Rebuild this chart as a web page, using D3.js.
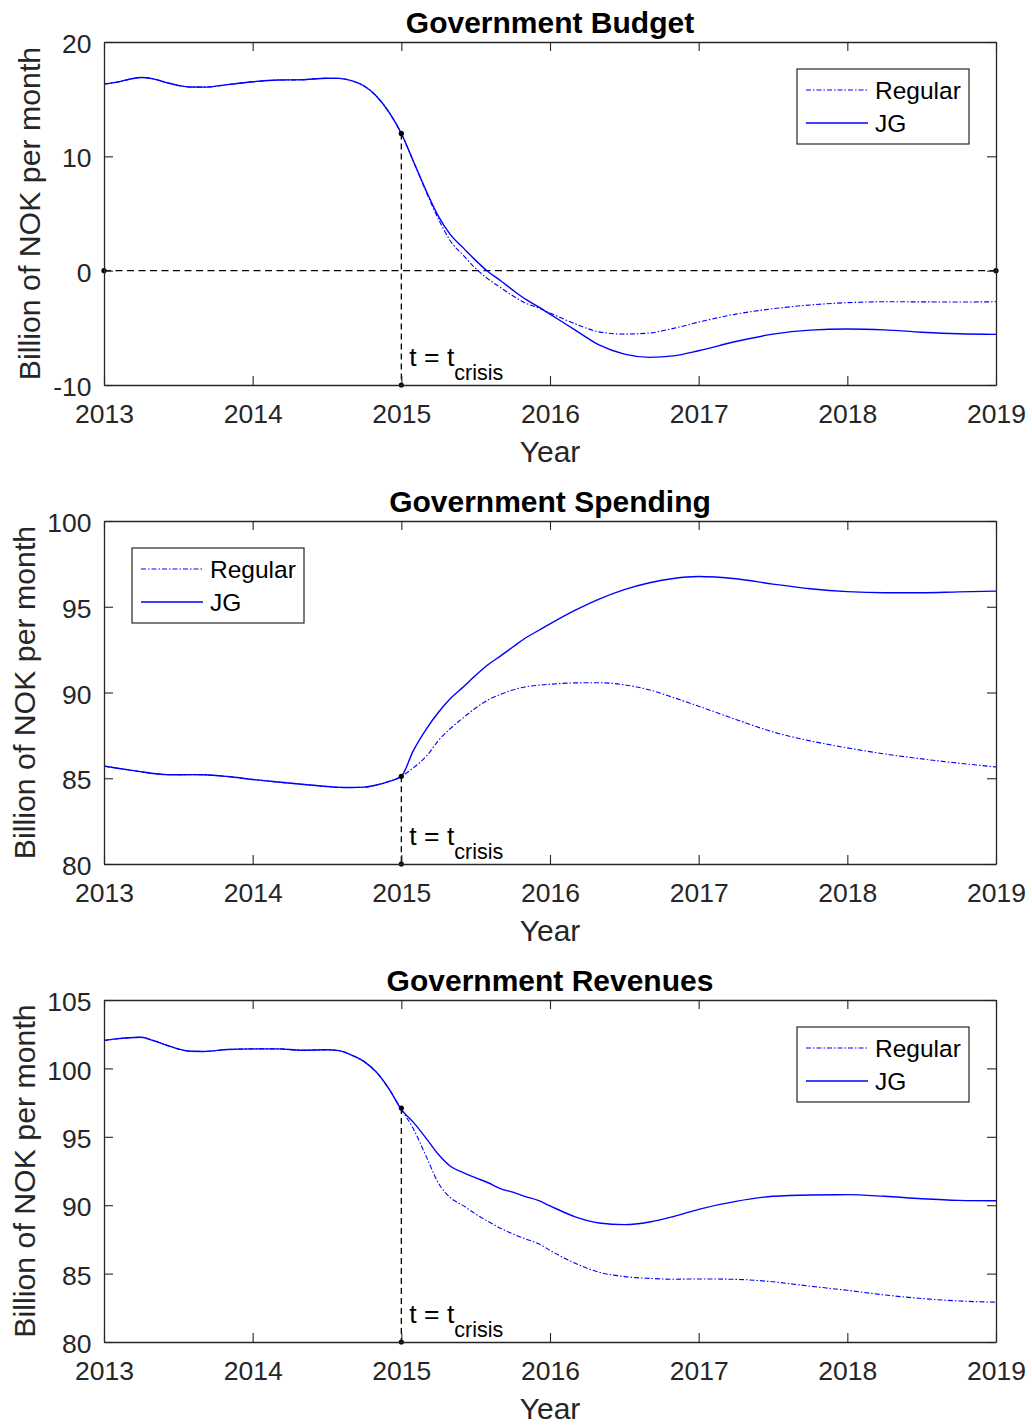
<!DOCTYPE html>
<html>
<head>
<meta charset="utf-8">
<script src="https://cdn.jsdelivr.net/npm/d3@7/dist/d3.min.js"></script>
<style>
  body { margin: 0; background: #fff; }
  text { font-family: "Liberation Sans", Arial, sans-serif; }
</style>
</head>
<body>
<svg></svg>
<script>
/* Government budget, spending and revenues: Regular vs JG */
var w = 1032, h = 1425;

var svg = d3.select("svg")
            .attr("width", w)
            .attr("height", h);

var yearTicks = [2013, 2014, 2015, 2016, 2017, 2018, 2019];
var crisisYear = 2015;

// before the crisis both scenarios share the same path
var preYears = [2013, 2013.08, 2013.25, 2013.33, 2013.42, 2013.5, 2013.58, 2013.67, 2013.83,
                2014, 2014.17, 2014.33, 2014.5, 2014.58, 2014.67, 2014.75, 2014.83, 2014.92, 2015];
var postYears = [2015, 2015.08, 2015.17, 2015.25, 2015.33, 2015.42, 2015.5, 2015.58, 2015.67,
                 2015.75, 2015.83, 2015.92, 2016, 2016.17, 2016.33, 2016.5, 2016.67, 2016.83,
                 2017, 2017.25, 2017.5, 2017.75, 2018, 2018.25, 2018.5, 2018.75, 2019];

var budgetTicks = [-10, 0, 10, 20];
var budgetPre = [16.32, 16.47, 16.9, 16.78, 16.45, 16.2, 16.06, 16.05, 16.27,
                 16.52, 16.67, 16.7, 16.83, 16.82, 16.6, 16.15, 15.3, 13.8, 12.0];
var budgetRegular = [12.0, 9.6, 6.8, 4.5, 2.6, 1.3, 0.2, -0.7, -1.5,
                     -2.2, -2.8, -3.25, -3.7, -4.65, -5.35, -5.55, -5.45, -5.05,
                     -4.5, -3.8, -3.33, -3.0, -2.8, -2.72, -2.73, -2.74, -2.72];
var budgetJG = [12.0, 9.6, 6.9, 4.75, 3.15, 1.95, 0.9, -0.05, -0.9,
                -1.7, -2.45, -3.15, -3.8, -5.2, -6.5, -7.3, -7.58, -7.45,
                -7.0, -6.2, -5.55, -5.2, -5.1, -5.18, -5.38, -5.52, -5.57];

var spendingTicks = [80, 85, 90, 95, 100];
var spendingPre = [85.71, 85.6, 85.38, 85.28, 85.21, 85.2, 85.21, 85.2, 85.1,
                   84.93, 84.78, 84.65, 84.52, 84.47, 84.46, 84.48, 84.6, 84.82, 85.11];
var spendingRegular = [85.11, 85.6, 86.3, 87.2, 87.9, 88.55, 89.1, 89.55, 89.9,
                       90.15, 90.32, 90.42, 90.48, 90.56, 90.57, 90.45, 90.15, 89.71,
                       89.2, 88.43, 87.7, 87.18, 86.77, 86.42, 86.13, 85.88, 85.66];
var spendingJG = [85.11, 86.6, 87.9, 88.85, 89.65, 90.35, 91.0, 91.6, 92.15,
                  92.65, 93.15, 93.6, 94.0, 94.8, 95.45, 96.0, 96.4, 96.65,
                  96.76, 96.63, 96.32, 96.05, 95.88, 95.82, 95.82, 95.87, 95.91];

var revenueTicks = [80, 85, 90, 95, 100, 105];
var revenuePre = [102.04, 102.16, 102.28, 102.04, 101.7, 101.42, 101.25, 101.24, 101.38,
                  101.43, 101.43, 101.33, 101.36, 101.3, 100.95, 100.5, 99.75, 98.45, 97.0];
var revenueRegular = [97.0, 95.6, 93.5, 91.6, 90.55, 89.95, 89.35, 88.83, 88.3,
                      87.9, 87.55, 87.2, 86.7, 85.75, 85.1, 84.78, 84.65, 84.59,
                      84.61, 84.58, 84.4, 84.08, 83.78, 83.44, 83.18, 83.0, 82.91];
var revenueJG = [97.0, 96.07, 94.85, 93.7, 92.85, 92.36, 92.0, 91.66, 91.2,
                 90.95, 90.65, 90.35, 89.95, 89.15, 88.7, 88.58, 88.77, 89.17,
                 89.7, 90.28, 90.65, 90.75, 90.77, 90.65, 90.47, 90.35, 90.32];

var crisisValues = [12.0, 85.11, 97.1];
var seriesNames = ["Regular", "JG"];

var panels = [
  { title: "Government Budget", top: 42, bottom: 385, ticks: budgetTicks,
    pre: budgetPre, regular: budgetRegular, jg: budgetJG, crisis: crisisValues[0],
    zeroLine: true, legend: "right", ylabelX: 40 },
  { title: "Government Spending", top: 521, bottom: 864, ticks: spendingTicks,
    pre: spendingPre, regular: spendingRegular, jg: spendingJG, crisis: crisisValues[1],
    zeroLine: false, legend: "left", ylabelX: 35 },
  { title: "Government Revenues", top: 1000, bottom: 1342, ticks: revenueTicks,
    pre: revenuePre, regular: revenueRegular, jg: revenueJG, crisis: crisisValues[2],
    zeroLine: false, legend: "right", ylabelX: 35 }
];

var left = 104, right = 996;
var axisColor = "#262626";
var blue = "#0000ff";

var x = d3.scaleLinear().domain([2013, 2019]).range([left, right]);

function toPoints(years, vals) {
  return years.map(function(yr, i) { return [yr, vals[i]]; });
}

panels.forEach(function(p) {
  var y = d3.scaleLinear()
            .domain([p.ticks[0], p.ticks[p.ticks.length - 1]])
            .range([p.bottom, p.top]);
  var g = svg.append("g");

  var line = d3.line()
               .x(function(d) { return x(d[0]); })
               .y(function(d) { return y(d[1]); })
               .curve(d3.curveMonotoneX);

  // dashed guides
  if (p.zeroLine) {
    g.append("line")
      .attr("x1", x(2013)).attr("x2", x(2019))
      .attr("y1", y(0)).attr("y2", y(0))
      .attr("stroke", "#000").attr("stroke-width", 1.3)
      .attr("stroke-dasharray", "7,4.5");
  }
  g.append("line")
    .attr("x1", x(crisisYear)).attr("x2", x(crisisYear))
    .attr("y1", y(p.crisis)).attr("y2", p.bottom)
    .attr("stroke", "#000").attr("stroke-width", 1.3)
    .attr("stroke-dasharray", "6,4");

  // series
  var preLen = preYears.length - 1;
  var regularPts = toPoints(preYears.slice(0, preLen), p.pre).concat(toPoints(postYears, p.regular));
  var jgPts = toPoints(preYears.slice(0, preLen), p.pre).concat(toPoints(postYears, p.jg));

  g.append("path")
    .attr("d", line(regularPts))
    .attr("fill", "none").attr("stroke", blue).attr("stroke-width", 1.1)
    .attr("stroke-dasharray", "5,2,1.5,2");
  g.append("path")
    .attr("d", line(jgPts))
    .attr("fill", "none").attr("stroke", blue).attr("stroke-width", 1.4);

  // black markers
  var dots = [[crisisYear, p.crisis], [crisisYear, p.ticks[0]]];
  if (p.zeroLine) { dots.push([2013, 0]); dots.push([2019, 0]); }
  g.selectAll("circle.mark")
    .data(dots)
    .enter()
    .append("circle")
    .attr("cx", function(d) { return x(d[0]); })
    .attr("cy", function(d) { return y(d[1]); })
    .attr("r", 2.6)
    .attr("fill", "#000");

  // crisis label
  var lab = g.append("text")
    .attr("x", x(crisisYear) + 8)
    .attr("y", p.bottom - 19)
    .attr("font-size", 26.5)
    .attr("fill", "#000")
    .text("t = t");
  lab.append("tspan")
    .attr("dy", 14)
    .attr("font-size", 21.5)
    .text("crisis");

  // axes (inward ticks on all four sides)
  var plain = function(d) { return String(d); };
  var bottomAxis = g.append("g")
    .attr("transform", "translate(0," + p.bottom + ")")
    .call(d3.axisBottom(x).tickValues(yearTicks).tickFormat(plain)
      .tickSizeInner(-9).tickSizeOuter(0).tickPadding(19));
  var leftAxis = g.append("g")
    .attr("transform", "translate(" + left + ",0)")
    .call(d3.axisLeft(y).tickValues(p.ticks).tickFormat(plain)
      .tickSizeInner(-9).tickSizeOuter(0).tickPadding(12.5));
  var topAxis = g.append("g")
    .attr("transform", "translate(0," + p.top + ")")
    .call(d3.axisTop(x).tickValues(yearTicks).tickFormat("")
      .tickSizeInner(-9).tickSizeOuter(0));
  var rightAxis = g.append("g")
    .attr("transform", "translate(" + right + ",0)")
    .call(d3.axisRight(y).tickValues(p.ticks).tickFormat("")
      .tickSizeInner(-9).tickSizeOuter(0));

  [bottomAxis, leftAxis, topAxis, rightAxis].forEach(function(a) {
    a.select(".domain").attr("stroke", axisColor).attr("stroke-width", 1.3);
    a.selectAll(".tick line").attr("stroke", axisColor).attr("stroke-width", 1.1);
    a.selectAll("text")
      .attr("font-family", "'Liberation Sans', Arial, sans-serif")
      .attr("font-size", 26.5)
      .attr("fill", axisColor);
  });
  leftAxis.selectAll("text").attr("dy", "0.4em");

  // titles and labels
  g.append("text")
    .attr("x", (left + right) / 2).attr("y", p.top - 9)
    .attr("text-anchor", "middle")
    .attr("font-size", 30).attr("font-weight", "bold")
    .attr("fill", "#000")
    .text(p.title);
  g.append("text")
    .attr("x", (left + right) / 2).attr("y", p.bottom + 77)
    .attr("text-anchor", "middle")
    .attr("font-size", 30)
    .attr("fill", axisColor)
    .text("Year");
  g.append("text")
    .attr("transform", "translate(" + p.ylabelX + "," + ((p.top + p.bottom) / 2) + ") rotate(-90)")
    .attr("text-anchor", "middle")
    .attr("font-size", 30.3)
    .attr("fill", axisColor)
    .text("Billion of NOK per month");

  // legend
  var lx = p.legend === "right" ? right - 199 : left + 28;
  var ly = p.top + 27;
  var leg = g.append("g").attr("transform", "translate(" + lx + "," + ly + ")");
  leg.append("rect")
    .attr("width", 172).attr("height", 75)
    .attr("fill", "#fff").attr("stroke", axisColor).attr("stroke-width", 1.2);
  seriesNames.forEach(function(name, i) {
    var ry = 21 + i * 33;
    leg.append("line")
      .attr("x1", 9).attr("x2", 71).attr("y1", ry).attr("y2", ry)
      .attr("stroke", blue)
      .attr("stroke-width", i === 0 ? 1.1 : 1.4)
      .attr("stroke-dasharray", i === 0 ? "5,2,1.5,2" : null);
    leg.append("text")
      .attr("x", 78).attr("y", ry).attr("dy", "0.36em")
      .attr("font-size", 24.5)
      .attr("fill", "#000")
      .text(name);
  });
});
</script>
</body>
</html>
